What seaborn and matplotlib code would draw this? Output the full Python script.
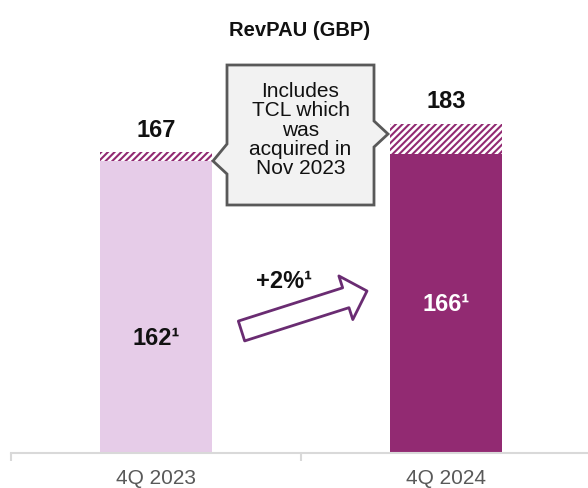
import matplotlib
matplotlib.use("Agg")
import matplotlib.pyplot as plt
import matplotlib.patches as mpatches
import seaborn as sns
import pandas as pd

# Chart values
quarters = ["4Q 2023", "4Q 2024"]
total_revpau = [167, 183]
organic_revpau = [162, 166]
inner_labels = ["162¹", "166¹"]
inner_label_y = [64, 83]
growth_label = "+2%¹"
callout_text = "Includes\nTCL which\nwas\nacquired in\nNov 2023"

LIGHT = "#E6CCE8"
DARK = "#922A72"
ARROW = "#6A2C72"
W, H = 588, 489

sns.set_theme(style="white")
plt.rcParams["font.family"] = ["Liberation Sans", "DejaVu Sans"]
plt.rcParams["hatch.linewidth"] = 1.5

df = pd.DataFrame({"Quarter": quarters, "Total": total_revpau, "Organic": organic_revpau})

fig = plt.figure(figsize=(W / 100, H / 100), dpi=100)
ax = fig.add_axes([11 / W, 35 / H, 580 / W, 432 / H])

# hatched total (includes TCL), then the solid organic part on top
sns.barplot(data=df, x="Quarter", y="Total", color="white", edgecolor=DARK,
            hatch="/////", linewidth=0, width=0.383, ax=ax)
sns.barplot(data=df, x="Quarter", y="Organic", hue="Quarter", palette=[LIGHT, DARK],
            legend=False, linewidth=0, width=0.383, saturation=1, ax=ax)

ax.set_xlim(-0.5, 1.5)
ax.set_ylim(0, 240)
ax.set_xlabel("")
ax.set_ylabel("")
ax.set_yticks([])
for s in ["top", "left", "right"]:
    ax.spines[s].set_visible(False)
ax.spines["bottom"].set_color("#D9D9D9")
ax.spines["bottom"].set_linewidth(1.5)
ax.set_xticks([-0.5, 0.5, 1.5], minor=True)
ax.tick_params(axis="x", which="major", length=0, pad=11, labelsize=15, labelcolor="#595959")
ax.tick_params(axis="x", which="minor", length=6, width=1.5, color="#D9D9D9", bottom=True)

for i, tot in enumerate(total_revpau):
    ax.annotate(str(tot), (i, tot), xytext=(0, 12), textcoords="offset points",
                ha="center", va="baseline", fontsize=17, fontweight="bold", color="#111111")
for i, (lab, y) in enumerate(zip(inner_labels, inner_label_y)):
    ax.text(i, y, lab, ha="center", va="center", fontsize=17, fontweight="bold",
            color="#111111" if i == 0 else "white")

fig.text(0.51, 1 - 30 / H, "RevPAU (GBP)", ha="center", va="center",
         fontsize=14.5, fontweight="bold", color="#111111")


def fxy(px, py):
    return (px / W, 1 - py / H)


# callout box with two pointers
pts = [(227, 66), (374, 66), (374, 122), (388, 135), (374, 148), (374, 206),
       (227, 206), (227, 175), (213, 162), (227, 145)]
fig.patches.append(mpatches.Polygon([fxy(*p) for p in pts], closed=True,
                                    transform=fig.transFigure, facecolor="#F2F2F2",
                                    edgecolor="#595959", linewidth=2, joinstyle="miter"))
fig.text(*fxy(300.5, 130), callout_text, ha="center", va="center", fontsize=15,
         linespacing=1.02, color="#111111")

# growth arrow
arrow = mpatches.FancyArrowPatch(fxy(241.5, 332), fxy(367, 292), transform=fig.transFigure,
                                 arrowstyle="simple,head_width=33,head_length=16,tail_width=15",
                                 mutation_scale=1, shrinkA=0, shrinkB=0,
                                 facecolor="white", edgecolor=ARROW, linewidth=2)
fig.patches.append(arrow)
fig.text(*fxy(284, 282), growth_label, ha="center", va="center", fontsize=17,
         fontweight="bold", color="#111111")

fig.savefig("out.png", dpi=100)
